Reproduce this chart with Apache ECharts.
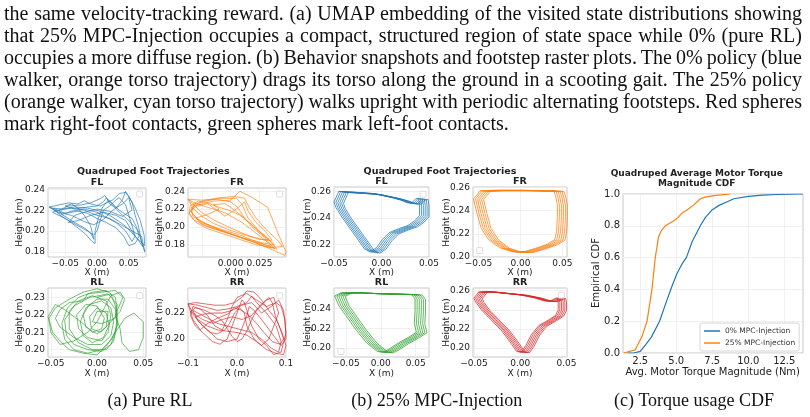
<!DOCTYPE html>
<html><head><meta charset="utf-8">
<script src="https://cdn.jsdelivr.net/npm/echarts@6/dist/echarts.min.js"></script>
<style>
html,body{margin:0;padding:0;background:#fff;}
#wrap{position:relative;width:810px;height:417px;overflow:hidden;}
#chart{position:absolute;left:0;top:0;width:810px;height:417px;}
#para{position:absolute;left:0;top:0;width:810px;height:140px;font-family:'Liberation Serif','Times New Roman',serif;font-size:20px;color:#111;}
#para div{position:absolute;left:4px;white-space:nowrap;line-height:22px;}
</style></head><body>
<div id="wrap"><div id="chart"></div><div id="para"></div></div>
<script>
// ---------- text ----------
const paragraphLines = [
  "the same velocity-tracking reward. (a) UMAP embedding of the visited state distributions showing",
  "that 25% MPC-Injection occupies a compact, structured region of state space while 0% (pure RL)",
  "occupies a more diffuse region. (b) Behavior snapshots and footstep raster plots. The 0% policy (blue",
  "walker, orange torso trajectory) drags its torso along the ground in a scooting gait. The 25% policy",
  "(orange walker, cyan torso trajectory) walks upright with periodic alternating footsteps. Red spheres",
  "mark right-foot contacts, green spheres mark left-foot contacts."
];
const captions = ["(a) Pure RL", "(b) 25% MPC-Injection", "(c) Torque usage CDF"];
const panelTitle = "Quadruped Foot Trajectories";
const legNames = ["FL", "FR", "RL", "RR"];
const cdfTitle = ["Quadruped Average Motor Torque", "Magnitude CDF"];
const cdfNames = ["0% MPC-Injection", "25% MPC-Injection"];

// ---------- (a) Pure RL foot trajectories ----------
const aFL = [[-0.075,0.223],[-0.065,0.219],[-0.05,0.214],[-0.035,0.208],[-0.02,0.203],[-0.01,0.198],[-0.005,0.192],[-0.01,0.205],[-0.02,0.215],[-0.03,0.222],[-0.04,0.226],[-0.05,0.224],[-0.035,0.221],[-0.015,0.223],[0.0,0.224],[0.01,0.228],[0.015,0.232],[0.02,0.226],[0.03,0.222],[0.04,0.23],[0.045,0.238],[0.055,0.228],[0.06,0.215],[0.065,0.205],[0.07,0.19],[0.075,0.18],[0.07,0.195],[0.055,0.2],[0.04,0.205],[0.02,0.212],[0.0,0.215],[-0.02,0.22],[-0.04,0.222],[-0.06,0.22],[-0.07,0.218],[-0.05,0.212],[-0.03,0.205],[-0.015,0.2],[-0.005,0.196],[0.0,0.2],[0.005,0.21],[0.01,0.22],[0.02,0.224],[0.03,0.23],[0.035,0.232],[0.045,0.225],[0.05,0.215],[0.055,0.205],[0.06,0.195],[0.055,0.19],[0.045,0.2],[0.03,0.208],[0.015,0.213],[0.0,0.218],[-0.02,0.221],[-0.04,0.219],[-0.055,0.216],[-0.06,0.22],[-0.045,0.224],[-0.025,0.225],[-0.01,0.227],[0.005,0.231],[0.012,0.234],[0.02,0.228],[0.035,0.218],[0.05,0.21],[0.065,0.2],[0.072,0.185],[0.06,0.195],[0.045,0.21],[0.03,0.215],[0.01,0.218],[-0.01,0.215],[-0.03,0.21],[-0.045,0.208],[-0.035,0.215],[-0.02,0.218],[0.0,0.221],[0.02,0.219],[0.04,0.214],[0.055,0.22],[0.05,0.232],[0.04,0.226],[0.025,0.22],[0.01,0.211],[-0.005,0.206],[-0.02,0.209],[-0.04,0.215],[-0.06,0.218],[-0.075,0.223]];
const aFL2 = [[-0.06,0.225],[-0.045,0.227],[-0.03,0.226],[-0.02,0.229],[-0.01,0.226],[0.005,0.224],[0.015,0.227],[0.025,0.23],[0.035,0.236],[0.045,0.237],[0.05,0.233],[0.06,0.222],[0.068,0.21],[0.074,0.196],[0.075,0.186],[0.068,0.19],[0.058,0.196],[0.048,0.203],[0.035,0.209],[0.02,0.215],[0.005,0.219],[-0.015,0.222],[-0.035,0.223],[-0.055,0.221],[-0.068,0.222],[-0.06,0.216],[-0.045,0.21],[-0.03,0.203],[-0.018,0.197],[-0.008,0.19],[-0.003,0.188],[-0.003,0.2],[0.002,0.212],[0.008,0.222],[0.018,0.23],[0.025,0.226],[0.035,0.22],[0.045,0.216],[0.055,0.212],[0.062,0.204],[0.066,0.195],[0.06,0.188],[0.05,0.186],[0.042,0.195],[0.03,0.203],[0.015,0.208],[0.0,0.212],[-0.015,0.217],[-0.03,0.219],[-0.05,0.217],[-0.065,0.221],[-0.075,0.223]];
const aFR = [[-0.037,0.231],[-0.03,0.226],[-0.02,0.222],[-0.005,0.216],[0.01,0.205],[0.02,0.195],[0.03,0.185],[0.035,0.178],[0.025,0.182],[0.01,0.19],[-0.01,0.198],[-0.025,0.205],[-0.033,0.212],[-0.034,0.222],[-0.025,0.228],[-0.01,0.232],[0.005,0.232],[0.01,0.225],[0.015,0.21],[0.025,0.195],[0.035,0.183],[0.04,0.175],[0.03,0.18],[0.015,0.185],[0.0,0.192],[-0.015,0.2],[-0.028,0.208],[-0.035,0.218],[-0.03,0.224],[-0.015,0.229],[0.0,0.23],[0.008,0.24],[0.02,0.232],[0.032,0.222],[0.042,0.19],[0.048,0.172],[0.047,0.168],[0.04,0.172],[0.03,0.178],[0.02,0.183],[0.005,0.19],[-0.01,0.196],[-0.025,0.203],[-0.03,0.21],[-0.02,0.214],[-0.01,0.22],[-0.015,0.225],[-0.005,0.226],[0.0,0.222],[0.01,0.212],[0.02,0.2],[0.03,0.19],[0.038,0.18],[0.028,0.182],[0.01,0.188],[-0.005,0.194],[-0.02,0.2],[-0.032,0.208],[-0.036,0.216],[-0.03,0.223],[-0.02,0.226],[-0.012,0.219],[-0.005,0.212],[0.005,0.22],[0.012,0.228],[0.015,0.218],[0.022,0.205],[0.03,0.195],[0.036,0.185],[0.03,0.185],[0.015,0.19],[0.0,0.196],[-0.015,0.204],[-0.025,0.212],[-0.032,0.22],[-0.037,0.231]];
const aFR2 = [[-0.025,0.23],[-0.012,0.231],[0.0,0.228],[0.006,0.222],[0.012,0.21],[0.02,0.198],[0.028,0.19],[0.034,0.181],[0.038,0.176],[0.03,0.178],[0.018,0.184],[0.005,0.19],[-0.01,0.197],[-0.022,0.203],[-0.03,0.21],[-0.034,0.217],[-0.032,0.225],[-0.022,0.23],[-0.008,0.233],[0.004,0.234],[0.012,0.232],[0.016,0.222],[0.022,0.21],[0.03,0.198],[0.04,0.186],[0.045,0.178],[0.035,0.177],[0.022,0.18],[0.008,0.186],[-0.006,0.192],[-0.02,0.198],[-0.03,0.205],[-0.036,0.214],[-0.035,0.224],[-0.028,0.229],[-0.018,0.226],[-0.01,0.222],[0.0,0.218],[0.008,0.213],[0.018,0.203],[0.026,0.193],[0.033,0.186],[0.025,0.186],[0.012,0.192],[-0.002,0.2],[-0.015,0.208],[-0.025,0.216],[-0.033,0.226],[-0.037,0.231]];
const aRL = [[0.0,0.23],[0.015,0.232],[0.02,0.225],[0.022,0.215],[0.018,0.205],[0.01,0.2],[-0.005,0.2],[-0.02,0.204],[-0.03,0.212],[-0.03,0.222],[-0.02,0.228],[-0.005,0.231],[0.01,0.228],[0.015,0.22],[0.012,0.21],[0.005,0.205],[-0.01,0.207],[-0.02,0.212],[-0.022,0.22],[-0.012,0.226],[0.0,0.225],[0.008,0.218],[0.005,0.212],[-0.005,0.21],[-0.015,0.215],[-0.035,0.223],[-0.045,0.226],[-0.053,0.219],[-0.048,0.21],[-0.04,0.205],[-0.03,0.2],[-0.015,0.198],[0.0,0.197],[0.01,0.202],[0.02,0.21],[0.03,0.218],[0.04,0.221],[0.05,0.216],[0.05,0.207],[0.045,0.2],[0.035,0.199],[0.027,0.204],[0.025,0.212],[0.02,0.22],[0.028,0.23],[0.02,0.234],[0.005,0.233],[-0.01,0.232],[-0.015,0.228],[-0.03,0.227],[-0.04,0.223],[-0.045,0.218],[-0.04,0.213],[-0.025,0.207],[-0.01,0.203],[0.005,0.203],[0.015,0.208],[0.018,0.216],[0.015,0.224],[0.005,0.228],[-0.008,0.226],[-0.015,0.22],[-0.012,0.213],[0.0,0.209],[0.01,0.213],[0.012,0.222],[0.0,0.222],[-0.005,0.216],[0.005,0.215],[0.02,0.218],[0.022,0.226],[0.012,0.232],[-0.008,0.23],[-0.025,0.225],[-0.035,0.217],[-0.033,0.208],[-0.025,0.203],[-0.01,0.2],[0.005,0.199],[0.015,0.203],[0.02,0.21],[0.022,0.22],[0.02,0.23]];
const aRL2 = [[0.01,0.234],[-0.005,0.233],[-0.02,0.23],[-0.032,0.224],[-0.038,0.215],[-0.035,0.206],[-0.025,0.2],[-0.01,0.198],[0.005,0.2],[0.016,0.206],[0.022,0.214],[0.02,0.223],[0.012,0.229],[0.0,0.229],[-0.012,0.224],[-0.018,0.216],[-0.015,0.208],[-0.005,0.204],[0.007,0.207],[0.013,0.214],[0.01,0.221],[0.0,0.224],[-0.008,0.219],[-0.006,0.212],[0.004,0.21],[0.015,0.216],[0.025,0.222],[0.03,0.229],[0.025,0.233],[0.015,0.231],[0.008,0.224],[0.0,0.216],[-0.01,0.21],[-0.025,0.205],[-0.04,0.203],[-0.05,0.21],[-0.052,0.218],[-0.045,0.224],[-0.03,0.229],[-0.015,0.233],[0.0,0.235],[0.012,0.233]];
const aRR = [[-0.1,0.227],[-0.08,0.226],[-0.06,0.224],[-0.04,0.222],[-0.02,0.223],[0.0,0.225],[0.02,0.228],[0.03,0.233],[0.04,0.228],[0.06,0.22],[0.08,0.21],[0.09,0.198],[0.085,0.19],[0.07,0.193],[0.05,0.2],[0.03,0.205],[0.0,0.208],[-0.02,0.21],[-0.04,0.212],[-0.06,0.216],[-0.08,0.22],[-0.09,0.222],[-0.08,0.214],[-0.06,0.207],[-0.04,0.2],[-0.02,0.198],[0.0,0.2],[0.01,0.208],[0.02,0.218],[0.025,0.225],[0.035,0.222],[0.05,0.215],[0.07,0.205],[0.09,0.195],[0.1,0.2],[0.098,0.215],[0.09,0.225],[0.08,0.228],[0.06,0.225],[0.04,0.23],[0.02,0.235],[0.0,0.232],[-0.01,0.225],[-0.02,0.215],[-0.03,0.207],[-0.045,0.21],[-0.06,0.218],[-0.075,0.223],[-0.09,0.225],[-0.095,0.218],[-0.085,0.21],[-0.07,0.205],[-0.05,0.198],[-0.035,0.196],[-0.02,0.2],[-0.01,0.21],[0.0,0.22],[0.01,0.23],[0.015,0.228],[0.02,0.222],[0.03,0.21],[0.045,0.2],[0.06,0.195],[0.075,0.188],[0.09,0.19],[0.1,0.205],[0.095,0.222],[0.085,0.23],[0.07,0.225],[0.05,0.22],[0.03,0.228],[0.01,0.226],[-0.01,0.222],[-0.03,0.22],[-0.05,0.22],[-0.07,0.219],[-0.085,0.217],[-0.07,0.21],[-0.055,0.205],[-0.04,0.204],[-0.025,0.207],[-0.015,0.212],[-0.005,0.22],[0.005,0.224],[0.015,0.22],[0.02,0.21],[0.035,0.2],[0.05,0.195],[0.065,0.2],[0.075,0.21],[0.085,0.22],[0.075,0.232],[0.06,0.23],[0.045,0.225],[0.03,0.218],[0.01,0.215],[-0.01,0.217],[-0.03,0.215],[-0.05,0.212],[-0.07,0.215],[-0.09,0.22],[-0.1,0.227]];
const aRR2 = [[-0.085,0.228],[-0.065,0.227],[-0.045,0.226],[-0.025,0.226],[-0.005,0.228],[0.01,0.232],[0.02,0.237],[0.035,0.236],[0.05,0.23],[0.065,0.222],[0.08,0.215],[0.092,0.205],[0.1,0.195],[0.095,0.188],[0.08,0.189],[0.06,0.192],[0.04,0.198],[0.02,0.203],[0.0,0.205],[-0.02,0.206],[-0.04,0.207],[-0.06,0.21],[-0.08,0.215],[-0.095,0.221],[-0.085,0.224],[-0.065,0.222],[-0.045,0.218],[-0.03,0.214],[-0.02,0.208],[-0.01,0.202],[0.0,0.198],[0.01,0.2],[0.02,0.206],[0.03,0.215],[0.04,0.222],[0.055,0.228],[0.065,0.232],[0.072,0.228],[0.078,0.218],[0.088,0.208],[0.095,0.2],[0.088,0.196],[0.072,0.198],[0.055,0.205],[0.04,0.212],[0.025,0.218],[0.01,0.222],[-0.005,0.224],[-0.02,0.219],[-0.04,0.216],[-0.06,0.212],[-0.075,0.207],[-0.09,0.215],[-0.1,0.227]];

// ---------- (b) 25% MPC-Injection: one gait cycle per leg + per-cycle drift ----------
const bFLCycle = [[-0.045,0.26],[-0.03,0.2595],[-0.01,0.2585],[0.01,0.2555],[0.02,0.2535],[0.027,0.2515],[0.032,0.2515],[0.036,0.2545],[0.039,0.255],[0.04,0.25],[0.04,0.242],[0.035,0.238],[0.028,0.2345],[0.018,0.232],[0.008,0.229],[0.001,0.224],[-0.005,0.218],[-0.012,0.2145],[-0.018,0.217],[-0.024,0.223],[-0.033,0.232],[-0.042,0.241],[-0.048,0.248],[-0.05,0.252],[-0.045,0.26]];
const bFLDrift = [[0,0],[0.002,-0.0002],[0.004,-0.0004],[0.006,-0.0006],[0.008,-0.0008],[0.01,-0.001]];
const bFRCycle = [[-0.048,0.257],[-0.03,0.2575],[0.0,0.2575],[0.03,0.257],[0.04,0.257],[0.042,0.252],[0.044,0.245],[0.044,0.235],[0.043,0.222],[0.041,0.215],[0.032,0.211],[0.018,0.2075],[0.004,0.2045],[-0.01,0.2045],[-0.025,0.208],[-0.038,0.215],[-0.047,0.225],[-0.052,0.238],[-0.056,0.25],[-0.048,0.257]];
const bFRDrift = [[0,0],[0.0024,0],[0.0048,-0.0002],[0.0072,-0.0003],[0.0096,-0.0004],[0.012,-0.0005]];
const bRLCycle = [[-0.058,0.256],[-0.04,0.2565],[-0.01,0.2555],[0.02,0.255],[0.044,0.2545],[0.049,0.25],[0.049,0.238],[0.048,0.225],[0.051,0.216],[0.04,0.211],[0.025,0.205],[0.012,0.199],[0.003,0.1955],[-0.005,0.1965],[-0.02,0.205],[-0.035,0.218],[-0.05,0.233],[-0.06,0.243],[-0.066,0.253],[-0.058,0.256]];
const bRLDrift = [[0,0],[0.003,0],[0.006,-0.0002],[0.009,-0.0003],[0.012,-0.0004],[0.015,-0.0005]];
const bRRCycle = [[-0.045,0.2585],[-0.035,0.259],[-0.02,0.2575],[0.0,0.2555],[0.015,0.2525],[0.025,0.2495],[0.032,0.249],[0.037,0.2515],[0.04,0.2525],[0.041,0.248],[0.041,0.24],[0.038,0.234],[0.03,0.229],[0.02,0.2235],[0.012,0.214],[0.006,0.2025],[0.001,0.1955],[-0.004,0.1965],[-0.01,0.205],[-0.02,0.218],[-0.032,0.23],[-0.042,0.24],[-0.048,0.248],[-0.05,0.252],[-0.045,0.2585]];
const bRRDrift = [[0,0],[0.0018,0],[0.0036,-0.0002],[0.0054,-0.0003],[0.0072,-0.0004],[0.009,-0.0005]];

// ---------- (c) torque CDF ----------
const cdf0X = [1.6,2.04,2.5,2.85,3.27,3.84,4.3,4.7,5.05,5.4,5.7,6.1,6.67,7.0,7.48,8.0,8.5,9.0,10.0,11.0,12.0,13.8];
const cdf0Y = [0,0,0.01,0.05,0.1,0.2,0.32,0.42,0.5,0.56,0.6,0.7,0.8,0.85,0.9,0.93,0.95,0.97,0.985,0.993,0.997,1.0];
const cdf25X = [1.35,2.15,2.6,2.97,3.31,3.54,3.77,3.96,4.24,4.81,5.09,5.4,5.74,6.2,6.67,7.0,7.59,8.75];
const cdf25Y = [0,0.02,0.1,0.2,0.4,0.6,0.73,0.77,0.8,0.83,0.85,0.88,0.9,0.93,0.97,0.98,0.99,1.0];

// ---------- tick values ----------
const ticks = {
  aFLx:[-0.05,0,0.05], aFLy:[0.18,0.20,0.22,0.24],
  aFRx:[-0.025,0,0.025], aFRy:[0.18,0.20,0.22,0.24],
  aRLx:[-0.05,0,0.05], aRLy:[0.20,0.21,0.22,0.23],
  aRRx:[-0.1,0,0.1], aRRy:[0.20,0.22],
  bFLx:[-0.05,0,0.05], bFLy:[0.22,0.24,0.26],
  bFRx:[-0.05,0,0.05], bFRy:[0.20,0.22,0.24,0.26],
  bRLx:[-0.05,0,0.05], bRLy:[0.20,0.22,0.24],
  bRRx:[-0.05,0,0.05], bRRy:[0.20,0.22,0.24,0.26],
  cx:[2.5,5.0,7.5,10.0,12.5], cy:[0,0.2,0.4,0.6,0.8,1.0]
};

// ---------- layout ----------
const C = {blue:'#1f77b4', orange:'#ff7f0e', green:'#2ca02c', red:'#d62728'};
const panels = [
  {k:'aFL', g:[48,188,98,69], xr:[-0.077,0.077], yr:[0.175,0.2413], xd:2, yd:2, parts:[aFL,aFL2], c:C.blue, w:0.8, o:0.85},
  {k:'aFR', g:[188,188,98,69], xr:[-0.037,0.048], yr:[0.1663,0.2436], xd:3, yd:2, parts:[aFR,aFR2], c:C.orange, w:0.8, o:0.85},
  {k:'aRL', g:[48,288,98,69], xr:[-0.053,0.053], yr:[0.1958,0.2354], xd:2, yd:2, parts:[aRL,aRL2], c:C.green, w:0.8, o:0.85},
  {k:'aRR', g:[188,288,98,69], xr:[-0.1,0.1], yr:[0.1862,0.2392], xd:1, yd:2, parts:[aRR,aRR2], c:C.red, w:0.8, o:0.85},
  {k:'bFL', g:[334,187,95,70], xr:[-0.05,0.05], yr:[0.2108,0.2633], xd:2, yd:2, cyc:bFLCycle, dr:bFLDrift, c:C.blue, w:1, o:0.75},
  {k:'bFR', g:[473,187,94,70], xr:[-0.0566,0.0555], yr:[0.20,0.2603], xd:2, yd:2, cyc:bFRCycle, dr:bFRDrift, c:C.orange, w:1, o:0.75},
  {k:'bRL', g:[334,288,95,69], xr:[-0.067,0.069], yr:[0.1908,0.2611], xd:2, yd:2, cyc:bRLCycle, dr:bRLDrift, c:C.green, w:1, o:0.75},
  {k:'bRR', g:[473,288,94,69], xr:[-0.051,0.0505], yr:[0.1906,0.2628], xd:2, yd:2, cyc:bRRCycle, dr:bRRDrift, c:C.red, w:1, o:0.75}
];

function fmt(d){ return v => (v < -1e-12 ? '\u2212' : '') + Math.abs(v).toFixed(d); }
const FONT = "'DejaVu Sans', sans-serif";

function axis(gi, r, tv, dec, fs, isX){
  return {
    type:'value', gridIndex:gi, min:r[0], max:r[1],
    axisLine:{show:false},
    axisTick:{show:false, customValues:tv},
    splitLine:{show:true, lineStyle:{color:'#ececec', width:0.8}},
    axisLabel:{customValues:tv, formatter:fmt(dec), fontSize:fs, color:'#222', fontFamily:FONT, margin:isX?2:3}
  };
}

const grids = [], xAxes = [], yAxes = [], series = [], graphics = [];
panels.forEach((p, i) => {
  grids.push({left:p.g[0], top:p.g[1], width:p.g[2], height:p.g[3], show:true, borderColor:'#c8c8c8', borderWidth:1});
  xAxes.push(axis(i, p.xr, ticks[p.k+'x'], p.xd, 9, true));
  yAxes.push(axis(i, p.yr, ticks[p.k+'y'], p.yd, 9, false));
  let data = [];
  if (p.parts) p.parts.forEach(a => a.forEach(pt => data.push(pt)));
  else p.dr.forEach(d => p.cyc.forEach(pt => data.push([pt[0]+d[0], pt[1]+d[1]])));
  series.push({type:'line', xAxisIndex:i, yAxisIndex:i, data:data, symbol:'none', showSymbol:false, silent:true,
    lineStyle:{color:p.c, width:p.w, opacity:p.o}, clip:true, z:3});
});
// CDF panel
const ci = panels.length;
grids.push({left:623, top:194, width:180, height:159, show:true, borderColor:'#c8c8c8', borderWidth:1});
xAxes.push(axis(ci, [1.3,13.8], ticks.cx, 1, 10, true));
yAxes.push(axis(ci, [0,1], ticks.cy, 1, 10, false));
xAxes[ci].axisLabel.margin = 3;
series.push({name:cdfNames[0], type:'line', xAxisIndex:ci, yAxisIndex:ci, data:cdf0X.map((x,j)=>[x,cdf0Y[j]]), symbol:'none', lineStyle:{color:C.blue, width:1.2}, itemStyle:{color:C.blue}, silent:true});
series.push({name:cdfNames[1], type:'line', xAxisIndex:ci, yAxisIndex:ci, data:cdf25X.map((x,j)=>[x,cdf25Y[j]]), symbol:'none', lineStyle:{color:C.orange, width:1.2}, itemStyle:{color:C.orange}, silent:true});

// ---------- texts ----------
function T(x, y, s, fs, bold, extra){
  return Object.assign({type:'text', x:x, y:y, silent:true, style:{text:s, fontSize:fs, fontWeight:bold?'bold':'normal', fontFamily:FONT, fill:'#222', align:'center', verticalAlign:'middle'}}, extra||{});
}
graphics.push(T(153.3, 171.7, panelTitle, 9.5, true));
graphics.push(T(440, 171.7, panelTitle, 9.5, true));
panels.forEach((p, i) => {
  const cx = p.g[0] + p.g[2]/2;
  graphics.push(T(cx, p.g[1]-5, legNames[i%4], 9.5, true));
  graphics.push(T(cx, p.g[1] < 250 ? 272.3 : 373.3, 'X (m)', 9, false));
});
[[20,222.5],[160,222.5],[20,322.5],[160,322.5],[308,222.5],[446.7,222.5],[308,322.5],[446.7,322.5]].forEach(pt => {
  graphics.push(T(pt[0], pt[1], 'Height (m)', 9, false, {rotation:Math.PI/2}));
});
graphics.push(T(696.7, 173.3, cdfTitle[0], 9, true));
graphics.push(T(696.7, 183.3, cdfTitle[1], 9, true));
graphics.push(T(596.7, 273, 'Empirical CDF', 10, false, {rotation:Math.PI/2}));
graphics.push(T(712.7, 372.7, 'Avg. Motor Torque Magnitude (Nm)', 10, false));
const capFont = "'Liberation Serif', 'Times New Roman', serif";
[[150,401],[436.7,401],[694,401]].forEach((pt, i) => {
  const t = T(pt[0], pt[1], captions[i], 18, false);
  t.style.fontFamily = capFont; t.style.fill = '#111';
  graphics.push(t);
});
// empty matplotlib legend frames
[[136.7,191],[276.7,191],[136.7,292.7],[276.7,292.7],[420,191.2],[476.7,247.5],[338,348.5],[558.3,292.2]].forEach(pt => {
  graphics.push({type:'rect', silent:true, shape:{x:pt[0], y:pt[1], width:6, height:6, r:1}, style:{fill:'rgba(255,255,255,0.8)', stroke:'#d6d6d6', lineWidth:0.8}, z:10});
});

const chart = echarts.init(document.getElementById('chart'), null, {renderer:'canvas'});
chart.setOption({
  animation:false,
  backgroundColor:'#fff',
  grid:grids, xAxis:xAxes, yAxis:yAxes, series:series,
  legend:{data:cdfNames, left:700, top:323, orient:'vertical', icon:'rect', padding:[4,4,4,4], itemGap:4, itemWidth:16, itemHeight:1.5,
    textStyle:{fontSize:7.5, color:'#333', fontFamily:FONT}, borderColor:'#cccccc', borderWidth:0.8, borderRadius:2, backgroundColor:'#fff', selectedMode:false},
  graphic:{elements:graphics}
});

// ---------- paragraph (justified lines) ----------
const para = document.getElementById('para');
const lineCenters = [12.5, 34.5, 56.5, 78.5, 100.5, 122.5];
const fullWidth = 798;
paragraphLines.forEach((s, i) => {
  const d = document.createElement('div');
  d.textContent = s;
  d.style.top = (lineCenters[i] - 11) + 'px';
  para.appendChild(d);
  if (i < paragraphLines.length - 1) {
    const w = d.getBoundingClientRect().width;
    const n = (s.match(/ /g) || []).length;
    d.style.wordSpacing = ((fullWidth - w) / n) + 'px';
  }
});
</script>
</body></html>
